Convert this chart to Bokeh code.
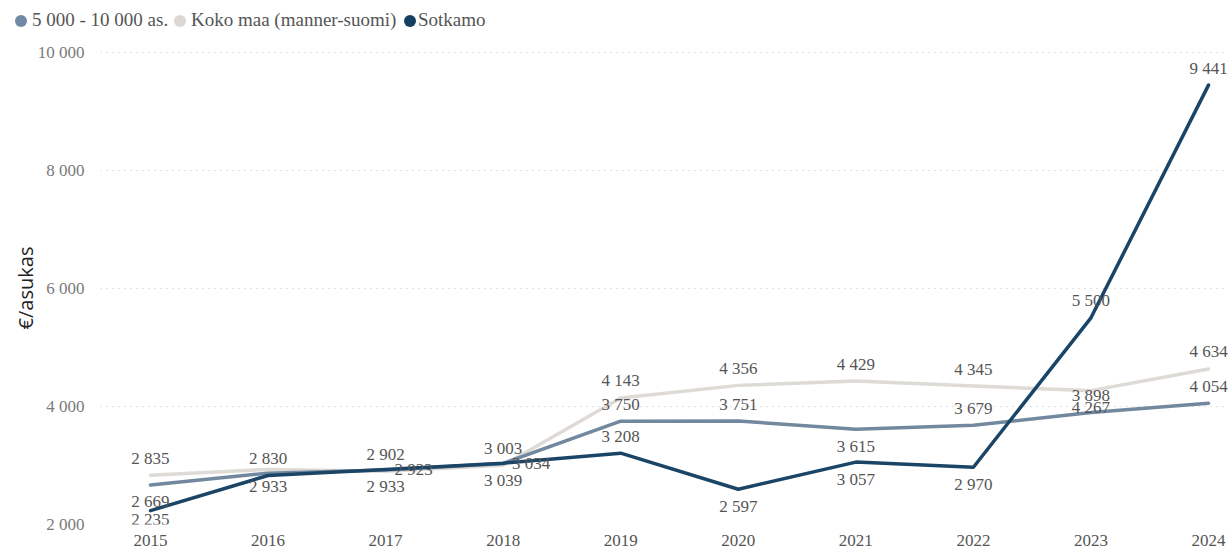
from bokeh.plotting import figure
from bokeh.layouts import column
from bokeh.models import ColumnDataSource, FixedTicker, Range1d, Div
from bokeh.core.properties import value
from bokeh.embed import file_html
from bokeh.resources import INLINE

# ---- data ----
years = [2015, 2016, 2017, 2018, 2019, 2020, 2021, 2022, 2023, 2024]
series_names = ["5 000 - 10 000 as.", "Koko maa (manner-suomi)", "Sotkamo"]
group_5000_10000 = [2669, 2870, 2923, 3034, 3750, 3751, 3615, 3679, 3898, 4054]
koko_maa = [2835, 2933, 2902, 3003, 4143, 4356, 4429, 4345, 4267, 4634]
sotkamo = [2235, 2830, 2933, 3039, 3208, 2597, 3057, 2970, 5500, 9441]
y_ticks = [2000, 4000, 6000, 8000, 10000]
y_axis_title = "€/asukas"

# ---- label placement (layout only) ----
# a = above, b = below, r = right, c = below (clamped), "" = hidden
pos_group = ["b", "", "r", "r", "a", "a", "b", "a", "a", "a"]
pos_koko = ["a", "b", "a", "a", "a", "a", "a", "a", "b", "a"]
pos_sotkamo = ["c", "a", "b", "b", "a", "b", "b", "b", "a", "a"]
offsets = {"a": (0, -17), "b": (0, 17), "r": (28, 0), "c": (0, 9)}

colors = ["#72889f", "#dedad6", "#1a4567"]
legend_colors = ["#7089a6", "#dcd7d3", "#143f61"]
legend_circle_left = [15, 174, 404]
legend_text_left = [32, 191, 418]
SERIF = "Liberation Serif"


def fmt(v):
    return f"{v:,}".replace(",", " ")


# ---- legend strip (HTML) ----
parts = []
for name, c, cl, tl in zip(series_names, legend_colors, legend_circle_left, legend_text_left):
    parts.append(
        f'<span style="position:absolute;left:{cl}px;top:15px;width:12px;height:12px;'
        f'border-radius:6px;background:{c};"></span>'
        f'<span style="position:absolute;left:{tl}px;top:9px;line-height:normal;'
        f'white-space:nowrap;">{name}</span>'
    )
legend_html = (
    '<div style="position:relative;width:1228px;height:33px;'
    "font-family:'Liberation Serif',serif;font-size:19px;color:#555555;\">"
    + "".join(parts) + "</div>"
)
legend_div = Div(text=legend_html, width=1228, height=33, margin=0)

# ---- main chart ----
p = figure(
    width=1228, height=525,
    output_backend="svg", toolbar_location=None,
    x_range=Range1d(2014.5747, 2024.17),
    y_range=Range1d(2000, 10010),
    min_border_left=100, min_border_right=0,
    min_border_top=18, min_border_bottom=34,
)
p.outline_line_color = None
p.background_fill_color = "white"
p.border_fill_color = "white"

p.xgrid.grid_line_color = None
p.ygrid.grid_line_color = "#c4c4c4"
p.ygrid.grid_line_dash = "1 5"
p.ygrid.grid_line_width = 1

p.yaxis.ticker = FixedTicker(ticks=y_ticks)
p.yaxis.major_label_overrides = {t: fmt(t) for t in y_ticks}
p.xaxis.ticker = FixedTicker(ticks=years)
p.xaxis.major_label_overrides = {y: str(y) for y in years}
for ax in (p.xaxis, p.yaxis):
    ax.axis_line_color = None
    ax.major_tick_line_color = None
    ax.minor_tick_line_color = None
    ax.major_label_text_font = SERIF
    ax.major_label_text_font_size = "17px"
p.yaxis.major_label_text_color = "#7a7a7a"
p.xaxis.major_label_text_color = "#555555"
p.yaxis.major_label_standoff = 10
p.xaxis.major_label_standoff = 4
p.yaxis.axis_label = y_axis_title
p.yaxis.axis_label_text_font = "Open Sans"
p.yaxis.axis_label_text_font_size = "20px"
p.yaxis.axis_label_text_font_style = "normal"
p.yaxis.axis_label_text_color = "#222222"
p.yaxis.axis_label_standoff = -4

all_series = [group_5000_10000, koko_maa, sotkamo]
all_pos = [pos_group, pos_koko, pos_sotkamo]
draw_order = [1, 0, 2]
for i in draw_order:
    p.line(years, all_series[i], line_color=colors[i], line_width=3.5,
           line_cap="round", line_join="round")

lx, ly, lt, ldx, ldy = [], [], [], [], []
for vals, poss in zip(all_series, all_pos):
    for yr, v, ps in zip(years, vals, poss):
        if not ps:
            continue
        dx, dy = offsets[ps]
        lx.append(yr); ly.append(v); lt.append(fmt(v)); ldx.append(dx); ldy.append(dy)
lsrc = ColumnDataSource(dict(x=lx, y=ly, text=lt, dx=ldx, dy=ldy))
p.text(x="x", y="y", text="text", x_offset="dx", y_offset="dy", source=lsrc,
       text_font=value(SERIF), text_font_size="17px",
       text_color="#555555", text_align="center", text_baseline="middle")

layout = column(legend_div, p, spacing=0)
open("out.html", "w").write(file_html(layout, INLINE))
